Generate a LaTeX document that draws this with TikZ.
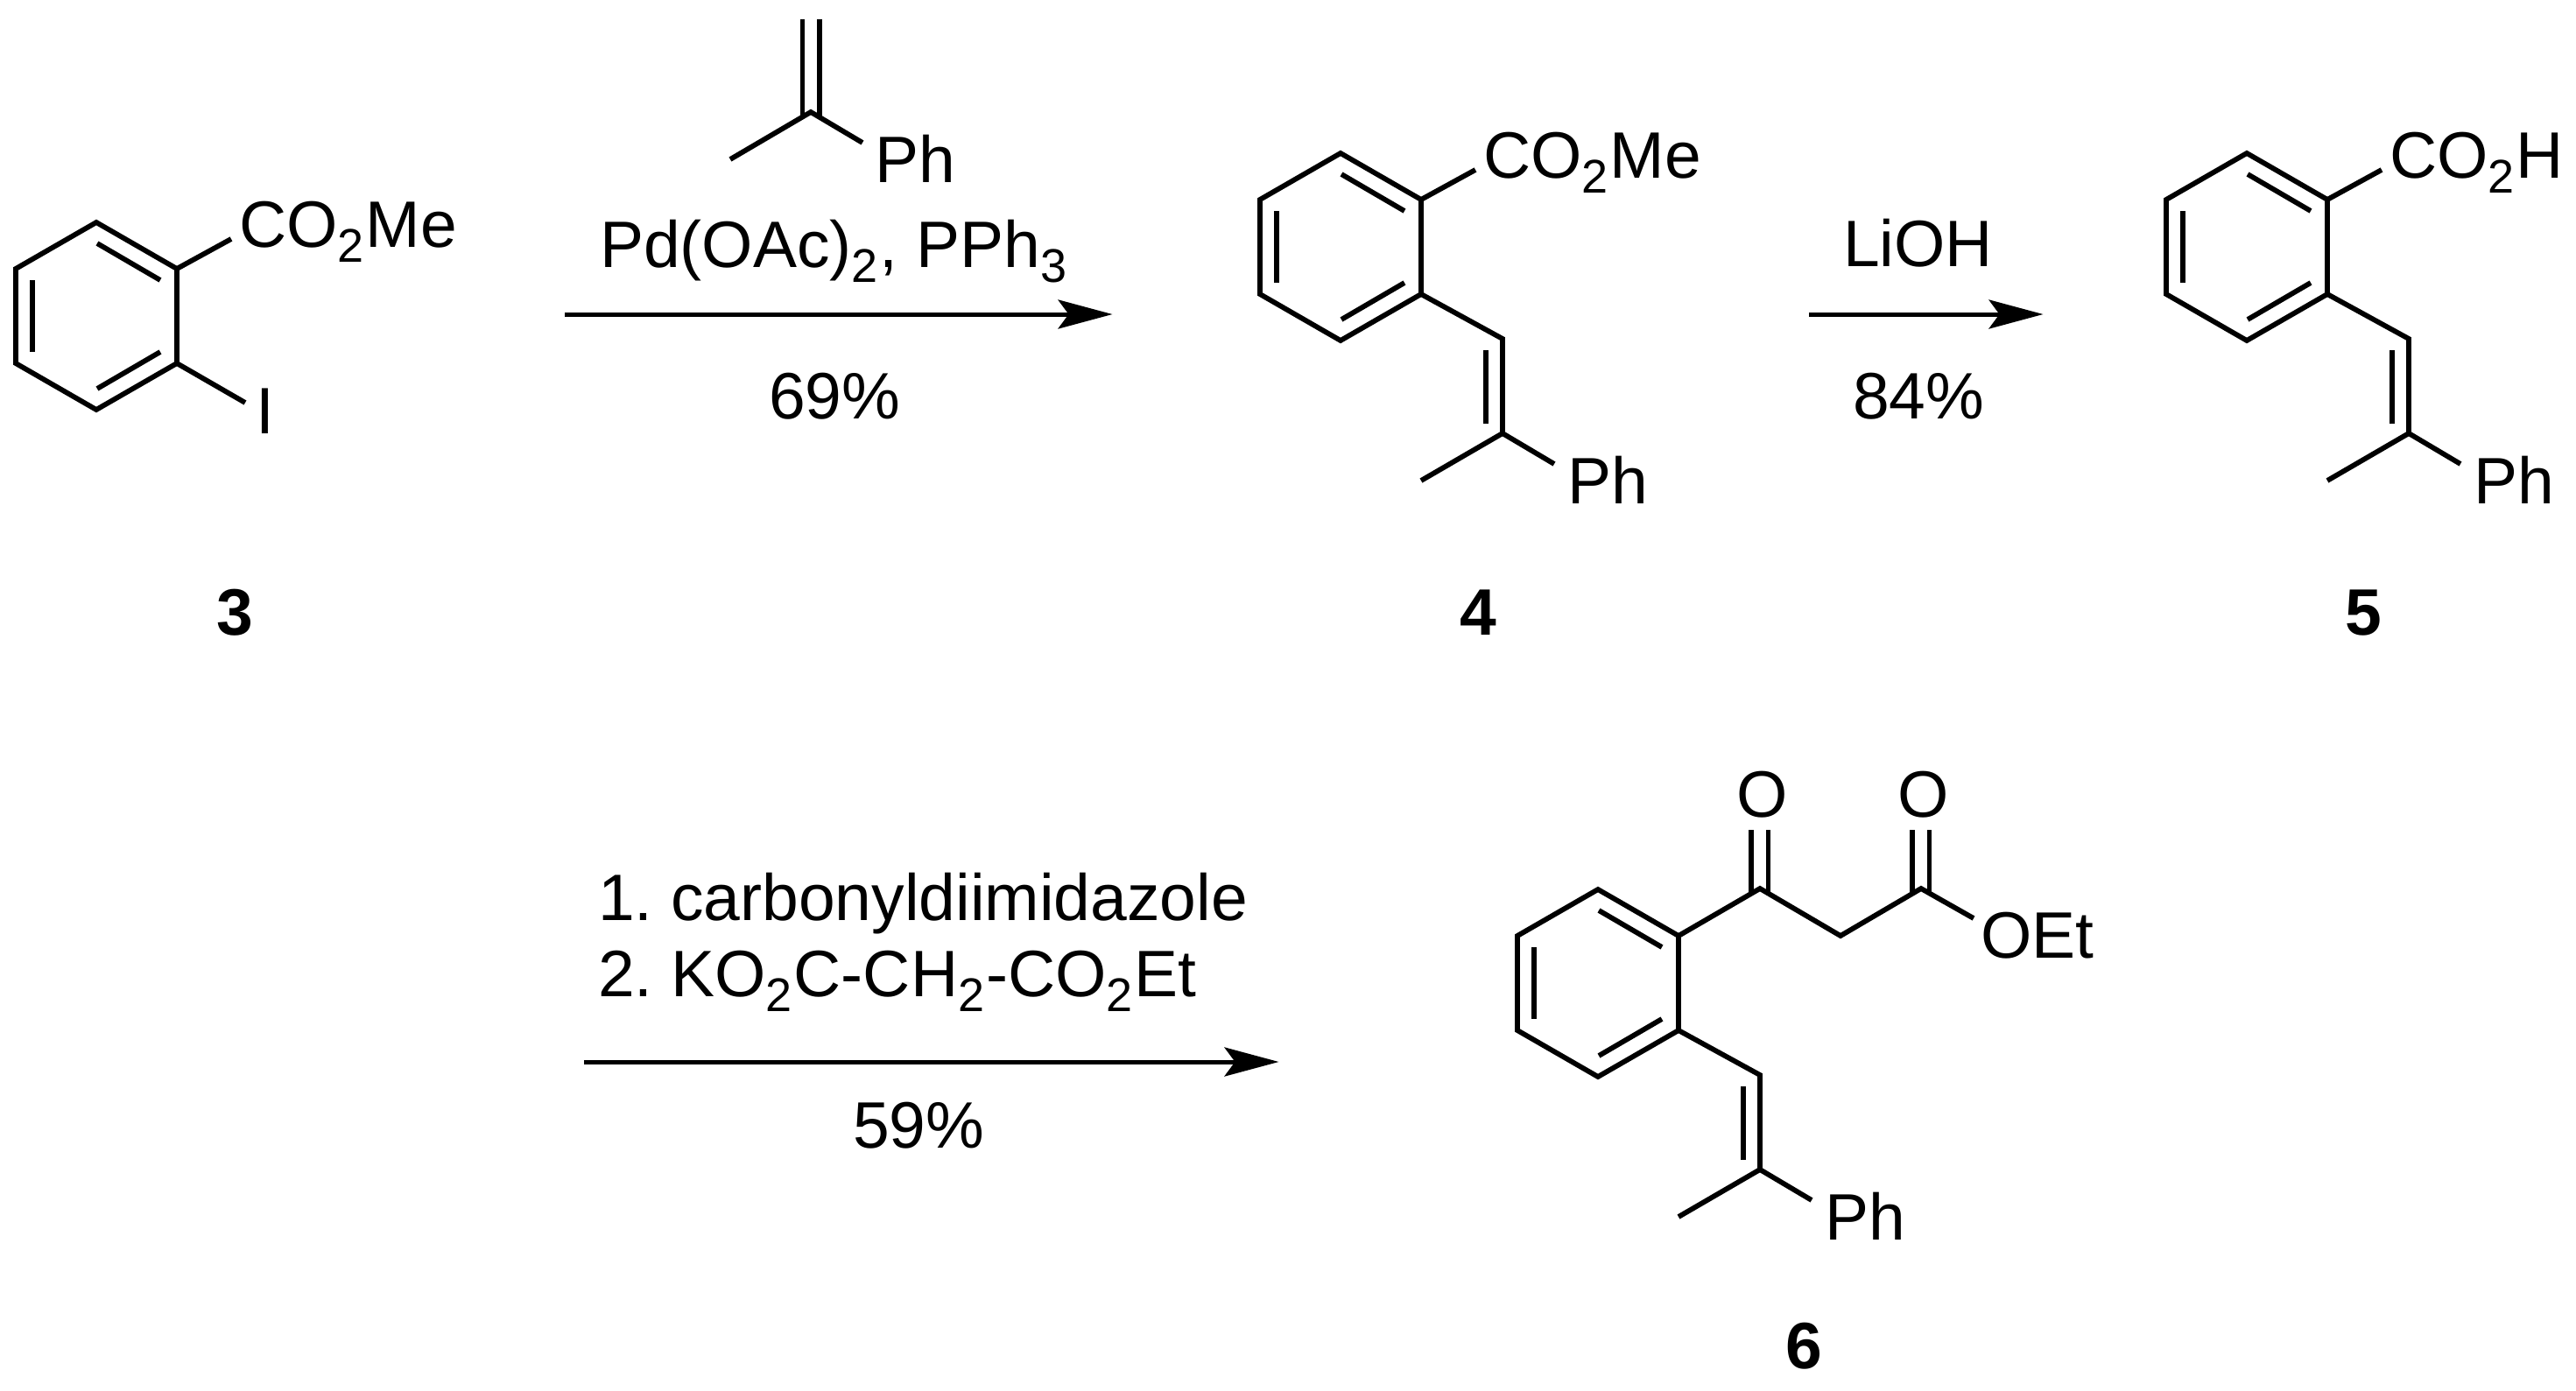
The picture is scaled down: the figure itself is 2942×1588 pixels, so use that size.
\documentclass[tikz,border=0pt]{standalone}
\usepackage{fontspec}
\setmainfont{Liberation Sans}
\usetikzlibrary{arrows.meta}
\frenchspacing
\newcommand{\lowidx}[1]{\raisebox{-17pt}{\fontsize{54pt}{54pt}\selectfont #1}\kern2pt}
\tikzset{
  bond/.style={line width=5.8pt,line cap=butt,line join=miter,black},
  rxn/.style={line width=5pt,black,-{Stealth[length=62pt,width=33pt,inset=12pt,sep=0pt]}},
  chem/.style={inner sep=0pt,outer sep=0pt,font=\fontsize{75pt}{75pt}\selectfont,anchor=base west},
  cchem/.style={chem,anchor=base},
  cmpd/.style={inner sep=0pt,outer sep=0pt,font=\fontsize{75pt}{75pt}\selectfont\bfseries,anchor=base}
}
% benzene ring, in the frame of compound 3, shifted
\newcommand{\benzring}[3]{%
  \begin{scope}[shift={(#2,#3)}]
    \coordinate (#1t) at (110,254);
    \coordinate (#1ur) at (202,307);
    \coordinate (#1lr) at (202,415);
    \coordinate (#1b) at (110,468);
    \coordinate (#1ll) at (18,415);
    \coordinate (#1ul) at (18,307);
    \coordinate (#1i1) at (111,278);
    \coordinate (#1i2) at (183,320);
    \coordinate (#1i3) at (111,444);
    \coordinate (#1i4) at (183,402);
    \coordinate (#1i5) at (37,320);
    \coordinate (#1i6) at (37,402);
    \draw[bond] (#1t) -- (#1ur) -- (#1lr) -- (#1b) -- (#1ll) -- (#1ul) -- cycle;
    \draw[bond] (#1i1) -- (#1i2);
    \draw[bond] (#1i3) -- (#1i4);
    \draw[bond] (#1i5) -- (#1i6);
  \end{scope}}
% propenyl-phenyl arm
\newcommand{\vinylarm}[3]{%
  \begin{scope}[shift={(#2,#3)}]
    \coordinate (#1v1) at (295,466);
    \coordinate (#1v2) at (295,574);
    \coordinate (#1vi1) at (276,479);
    \coordinate (#1vi2) at (276,563);
    \coordinate (#1me) at (202,628);
    \coordinate (#1pb) at (354,609);
    \node[chem] (#1ph) at (369,654) {Ph};
    \draw[bond] (#1lr) -- (#1v1) -- (#1v2) -- (#1me);
    \draw[bond] (#1v2) -- (#1pb);
    \draw[bond] (#1vi1) -- (#1vi2);
  \end{scope}}
\begin{document}
\begin{tikzpicture}[x=1pt,y=-1pt]
\useasboundingbox (0,0) rectangle (2942,1588);
% compound 3
\benzring{a}{0}{0}
\coordinate (aco) at (264,273);
\coordinate (ai) at (280,460);
\draw[bond] (aur) -- (aco);
\draw[bond] (alr) -- (ai);
\node[chem] (aester) at (273,282) {CO\lowidx{2}Me};
\node[cchem] (aiod) at (302.5,495) {I};
\node[cmpd] (n3) at (268,725) {3};
% alkene reagent
\coordinate (rc) at (926,128);
\coordinate (rl1) at (916.5,22);
\coordinate (rl2) at (916.5,134);
\coordinate (rr1) at (936,22);
\coordinate (rr2) at (936,134);
\coordinate (rme) at (834,182);
\coordinate (rpb) at (985,163);
\draw[bond] (rl1) -- (rl2);
\draw[bond] (rr1) -- (rr2);
\draw[bond] (rme) -- (rc) -- (rpb);
\node[chem] (rph) at (999,208) {Ph};
\node[chem] (rpd) at (685,305) {Pd(OAc)\lowidx{2}, PPh\lowidx{3}};
\coordinate (s1) at (645,359);
\coordinate (e1) at (1270.5,359);
\draw[rxn] (s1) -- (e1);
\node[chem] (y1) at (878,478) {69\%};
% compound 4
\benzring{b}{1421}{-79}
\vinylarm{b}{1421}{-79}
\coordinate (bco) at (1685,194);
\draw[bond] (bur) -- (bco);
\node[chem] (bester) at (1694,203) {CO\lowidx{2}Me};
\node[cmpd] (n4) at (1688,725) {4};
% LiOH arrow
\node[chem] (lioh) at (2105,304) {LiOH};
\coordinate (s2) at (2066,359);
\coordinate (e2) at (2333.5,359);
\draw[rxn] (s2) -- (e2);
\node[chem] (y2) at (2116,478) {84\%};
% compound 5
\benzring{c}{2456}{-79}
\vinylarm{c}{2456}{-79}
\coordinate (cco) at (2720,194);
\draw[bond] (cur) -- (cco);
\node[chem] (cacid) at (2729,203) {CO\lowidx{2}H};
\node[cmpd] (n5) at (2699,725) {5};
% second row arrow
\node[chem] (st1) at (683,1051) {1. carbonyldiimidazole};
\node[chem] (st2) at (683,1138) {2. KO\lowidx{2}C-CH\lowidx{2}-CO\lowidx{2}Et};
\coordinate (s3) at (667,1213);
\coordinate (e3) at (1460.5,1213);
\draw[rxn] (s3) -- (e3);
\node[chem] (y3) at (974,1311) {59\%};
% compound 6
\benzring{d}{1715}{762}
\vinylarm{d}{1715}{762}
\coordinate (dk) at (2010,1015);
\coordinate (dch) at (2102,1069);
\coordinate (de) at (2194,1015);
\coordinate (doe) at (2254,1049);
\coordinate (dk1) at (2000,948);
\coordinate (dk2) at (2000,1021);
\coordinate (dk3) at (2019.5,948);
\coordinate (dk4) at (2019.5,1021);
\coordinate (de1) at (2184,948);
\coordinate (de2) at (2184,1021);
\coordinate (de3) at (2203.5,948);
\coordinate (de4) at (2203.5,1021);
\draw[bond] (dur) -- (dk) -- (dch) -- (de) -- (doe);
\draw[bond] (dk1) -- (dk2);
\draw[bond] (dk3) -- (dk4);
\draw[bond] (de1) -- (de2);
\draw[bond] (de3) -- (de4);
\node[cchem] (do1) at (2013,933) {O};
\node[cchem] (do2) at (2197,933) {O};
\node[chem] (doet) at (2262,1094) {OEt};
\node[cmpd] (n6) at (2060,1563) {6};
\end{tikzpicture}
\end{document}
